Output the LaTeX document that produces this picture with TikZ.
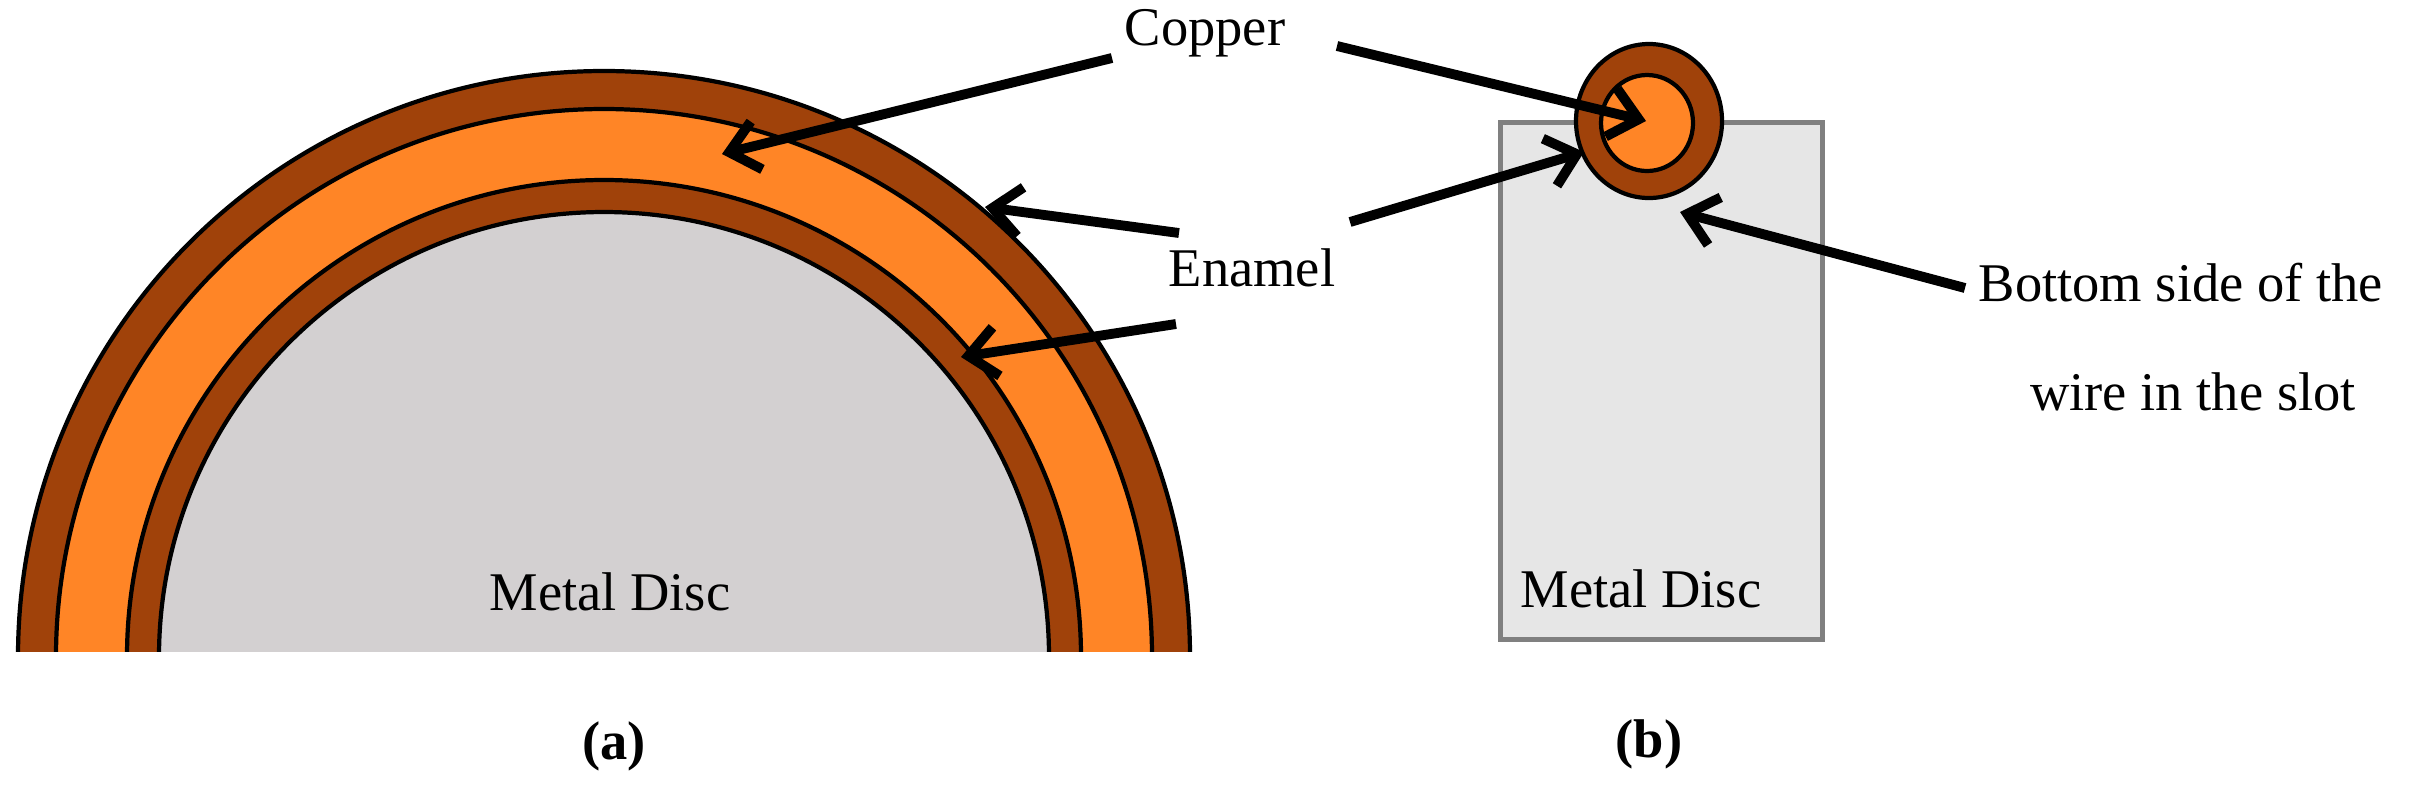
\documentclass[tikz,border=0pt]{standalone}
\usepackage{fontspec}
\setmainfont{Liberation Serif}
\usetikzlibrary{arrows.meta}
\definecolor{enamel}{HTML}{A0420A}
\definecolor{copper}{HTML}{FF8526}
\definecolor{disc}{HTML}{D3D0D1}
\definecolor{slot}{HTML}{E6E6E6}
\definecolor{slotline}{HTML}{808080}
\tikzset{
  lbl/.style={font=\fontsize{15.5}{18}\selectfont, inner sep=0pt},
  captxt/.style={font=\fontsize{15.5}{18}\selectfont\bfseries, inner sep=0pt},
  ptr/.style={line width=2.8pt, -{Straight Barb[length=8pt,width=14pt,line width=2.8pt]}},
  ring/.style={draw=black, line width=1.2pt}
}
\begin{document}
\begin{tikzpicture}[x=0.01cm,y=-0.01cm]
\useasboundingbox (0,0) rectangle (2424,793);
% (a)
\begin{scope}
\clip (0,0) rectangle (2424,651);
\fill[enamel,ring] (604,657) circle (586);
\fill[copper,ring] (604,657) circle (548);
\fill[enamel,ring] (604,657) circle (477);
\fill[disc,ring] (604,657) circle (445);
\end{scope}
\node[lbl] (md1) at (610,592) {Metal Disc};
\node[captxt] (ca) at (614,746) {(a)};
% (b)
\node[draw=slotline, line width=1.3pt, fill=slot, inner sep=0pt,
  anchor=north west, minimum width=3.22cm, minimum height=5.17cm] (slotbox) at (1498,120) {};
\node[lbl] (md2) at (1641,589) {Metal Disc};
\fill[enamel,ring] (1649,121) ellipse (73 and 77);
\fill[copper,ring] (1647,123) ellipse (46 and 48);
\coordinate (wirec) at (1646,121);
\node[captxt] (cb) at (1649,744) {(b)};
% labels
\node[lbl, anchor=west] (copper) at (1124,33) {Copper};
\node[lbl, anchor=west] (enam) at (1168,268) {Enamel};
\node[lbl, anchor=west] (bot) at (1978,283) {Bottom side of the};
\node[lbl] (wire) at (2193,392) {wire in the slot};
% arrow ends
\coordinate (c1s) at (1112,58);
\coordinate (c1t) at (722,154);
\coordinate (c2s) at (1337,46);
\coordinate (e1s) at (1179,233);
\coordinate (e1t) at (985,207);
\coordinate (e2s) at (1176,324);
\coordinate (e2t) at (961,357);
\coordinate (e3s) at (1350,222);
\coordinate (e3t) at (1584,152);
\coordinate (bs) at (1965,288);
\coordinate (bt) at (1680,212);
\draw[ptr] (c1s) -- (c1t);
\draw[ptr] (c2s) -- (wirec);
\draw[ptr] (e1s) -- (e1t);
\draw[ptr] (e2s) -- (e2t);
\draw[ptr] (e3s) -- (e3t);
\draw[ptr] (bs) -- (bt);
\end{tikzpicture}
\end{document}
